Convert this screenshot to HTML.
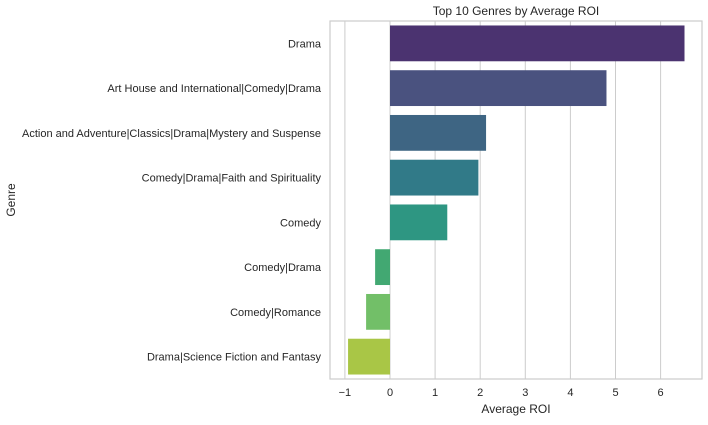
<!DOCTYPE html>
<html><head><meta charset="utf-8"><style>
body{margin:0;background:#fff;font-family:"Liberation Sans",sans-serif;}
</style></head><body>
<svg id="c" width="708" height="420" xmlns="http://www.w3.org/2000/svg"></svg>
<script>
const categories=["Drama","Art House and International|Comedy|Drama","Action and Adventure|Classics|Drama|Mystery and Suspense","Comedy|Drama|Faith and Spirituality","Comedy","Comedy|Drama","Comedy|Romance","Drama|Science Fiction and Fantasy"];
const roiValues=[6.53,4.8,2.13,1.96,1.27,-0.33,-0.53,-0.93];
const barColors=["#4b3370","#4a527f","#3e6583","#317a88","#2e9682","#42a872","#72bf68","#a9c646"];
const xTicks=[-1,0,1,2,3,4,5,6];
const NS="http://www.w3.org/2000/svg";
const svg=document.getElementById('c');
const L=330,R=702,T=21,B=379;
const x=v=>390+(v)*45.1;
const band=(B-T)/categories.length;
const y=i=>T+band*i;
function el(t,a,txt){const e=document.createElementNS(NS,t);for(const k in a)e.setAttribute(k,a[k]);if(txt!==undefined)e.textContent=txt;svg.appendChild(e);return e;}
xTicks.forEach(t=>{
 const g=el('line',{x1:x(t),x2:x(t),y1:T,y2:B,stroke:'#cccccc','stroke-width':1});
 
 
 const lb=el('text',{x:x(t),y:B+17,'text-anchor':'middle','font-size':11,fill:'#262626'},t<0?'\u2212'+Math.abs(t):String(t));
 
 
});
categories.forEach((c,i)=>{
 const v=roiValues[i];
 const r=el('rect',{x:Math.min(x(0),x(v)),y:y(i)+band*0.1,width:Math.abs(x(v)-x(0)),height:band*0.8,fill:barColors[i]});
 
 
 const lb=el('text',{x:L-9,y:y(i)+band/2+4,'text-anchor':'end','font-size':11,fill:'#262626'},c);
 
 
});
const fr=el('rect',{x:L,y:T,width:R-L,height:B-T,fill:'none',stroke:'#cccccc','stroke-width':1.2});


const ti=el('text',{x:(L+R)/2,y:15,'text-anchor':'middle','font-size':12,fill:'#262626'},'Top 10 Genres by Average ROI');


const xt=el('text',{x:(L+R)/2,y:413,'text-anchor':'middle','font-size':12,fill:'#262626'},'Average ROI');


const yt=el('text',{x:15,y:(T+B)/2,'text-anchor':'middle','font-size':12,fill:'#262626',transform:'rotate(-90 15 '+((T+B)/2)+')'},'Genre');


</script>
</body></html>
